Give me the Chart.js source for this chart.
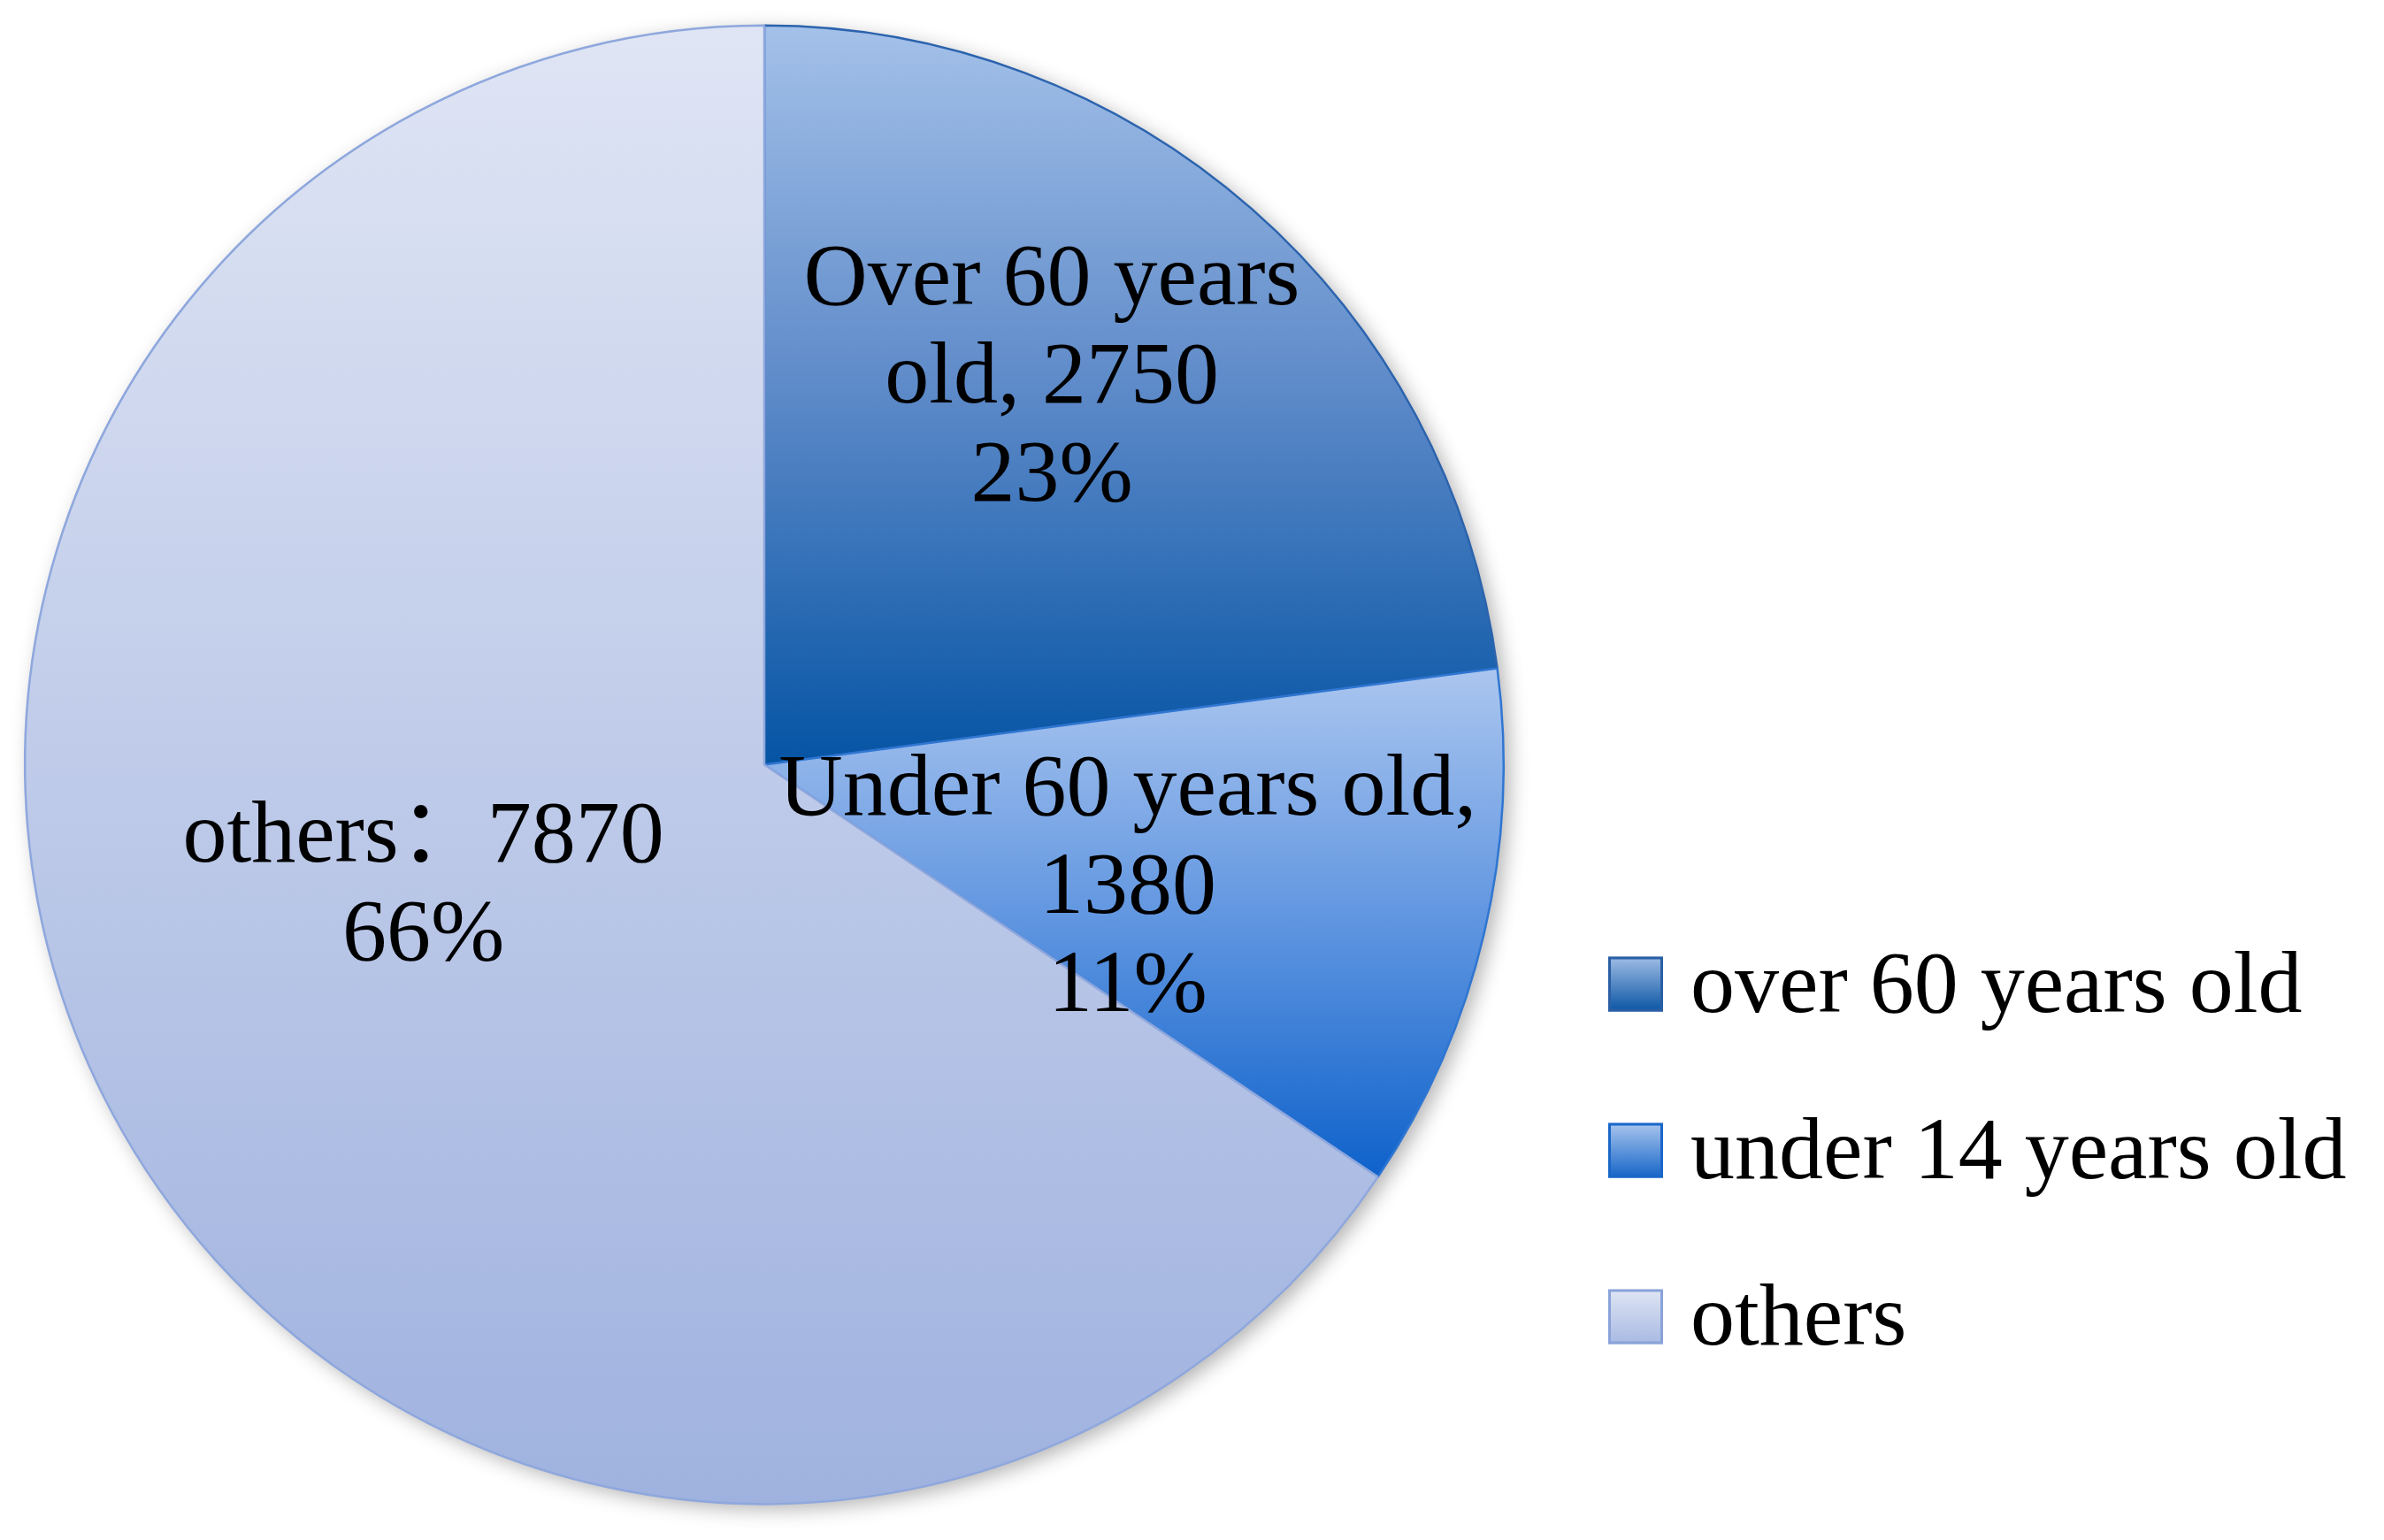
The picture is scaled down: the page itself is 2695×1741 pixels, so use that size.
<!DOCTYPE html>
<html>
<head>
<meta charset="utf-8">
<script src="https://cdn.jsdelivr.net/npm/chart.js@4.4.0/dist/chart.umd.min.js"></script>
<style>
  html, body { margin: 0; padding: 0; background: #fff; }
  #wrap { width: 2695px; height: 1741px; position: relative; }
</style>
</head>
<body>
<div id="wrap"><canvas id="AgePie"></canvas></div>
<script>
// data
const LegendNames = ["over 60 years old", "under 14 years old", "others"];
const SliceNames = ["Over 60 years old", "Under 60 years old", "others"];
const Values = [2750, 1380, 7870];
const Percents = ["23%", "11%", "66%"];

// label text as wrapped in the original
const SliceText = [
  ["Over 60 years", `old, ${Values[0]}`, Percents[0]],
  [`${SliceNames[1]},`, `${Values[1]}`, Percents[1]],
  [`${SliceNames[2]}\uFF1A${Values[2]}`, Percents[2]],
];

// styles
const FONT = "100px 'Liberation Serif', 'Noto Sans CJK SC', serif";
const Stops = [
  ["#a4c1e9", "#5c89c8", "#0554a4"],
  ["#abc6ef", "#5f95e0", "#0e62cb"],
  ["#dfe5f4", "#bfcbe9", "#9fb2df"],
];
const Borders = ["#2b63ad", "#2f76d2", "#8ea7dd"];
const LegendStops = [["#a0bde5", "#0a55a4"], ["#a9c5ee", "#1665c8"], ["#dfe5f4", "#a8b9e2"]];
const LegendBorders = ["#2a5fa5", "#1a67c9", "#8aa3da"];
// label placement: angle nudge (deg) and radius fraction
const LabelNudge = [-4.5, 5.8, 8.3];
const LabelRadius = [0.65, 0.52, 0.49];

// vertical extent of slice i, used for the per-slice gradient
function sliceYRange(chart, i) {
  const a = chart.chartArea;
  const cy = (a.top + a.bottom) / 2;
  const r = Math.min(a.right - a.left, a.bottom - a.top) / 2;
  const data = chart.data.datasets[0].data;
  const total = data.reduce((s, v) => s + v, 0);
  let start = -Math.PI / 2;
  for (let k = 0; k < i; k++) start += (data[k] / total) * Math.PI * 2;
  const end = start + (data[i] / total) * Math.PI * 2;
  let lo = cy, hi = cy;
  for (let t = start; t <= end; t += 0.005) {
    const y = cy + r * Math.sin(t);
    lo = Math.min(lo, y); hi = Math.max(hi, y);
  }
  const ye = cy + r * Math.sin(end);
  return [Math.min(lo, ye), Math.max(hi, ye)];
}

function sliceFill(c) {
  const chart = c.chart;
  const i = c.dataIndex;
  if (!chart.chartArea || i === undefined) return Stops[i || 0][1];
  const [y0, y1] = sliceYRange(chart, i);
  const g = chart.ctx.createLinearGradient(0, y0, 0, y1);
  g.addColorStop(0, Stops[i][0]);
  g.addColorStop(0.5, Stops[i][1]);
  g.addColorStop(1, Stops[i][2]);
  return g;
}

// soft shadow under the whole pie
const pieShadow = {
  id: "pieShadow",
  beforeDatasetsDraw(chart) {
    const arc = chart.getDatasetMeta(0).data[0];
    if (!arc) return;
    const { x, y, outerRadius } = arc.getProps(["x", "y", "outerRadius"], true);
    const ctx = chart.ctx;
    ctx.save();
    ctx.shadowColor = "rgba(0,0,0,0.30)";
    ctx.shadowBlur = 22;
    ctx.shadowOffsetX = 7;
    ctx.shadowOffsetY = 6;
    ctx.fillStyle = "#c8d2ec";
    ctx.beginPath();
    ctx.arc(x, y, outerRadius, 0, Math.PI * 2);
    ctx.fill();
    ctx.restore();
  },
};

// data labels inside the slices
const sliceLabels = {
  id: "sliceLabels",
  afterDatasetsDraw(chart) {
    const ctx = chart.ctx;
    const lineH = 111;
    chart.getDatasetMeta(0).data.forEach((arc, i) => {
      const p = arc.getProps(["x", "y", "startAngle", "endAngle", "outerRadius"], true);
      const mid = (p.startAngle + p.endAngle) / 2 + (LabelNudge[i] * Math.PI) / 180;
      const rr = p.outerRadius * LabelRadius[i];
      const lx = p.x + rr * Math.cos(mid), ly = p.y + rr * Math.sin(mid);
      const lines = SliceText[i];
      ctx.save();
      ctx.font = FONT;
      ctx.fillStyle = "#000";
      ctx.textAlign = "center";
      ctx.textBaseline = "middle";
      lines.forEach((t, k) => ctx.fillText(t, lx, ly + (k - (lines.length - 1) / 2) * lineH));
      ctx.restore();
    });
  },
};

// legend on the right with small gradient boxes
const sideLegend = {
  id: "sideLegend",
  afterDraw(chart) {
    const ctx = chart.ctx;
    const a = chart.chartArea;
    const cy = (a.top + a.bottom) / 2;
    const box = 62, gap = 188;
    const bx = a.right + 117;
    LegendNames.forEach((name, i) => {
      const rowY = cy + 248 + i * gap;
      const top = rowY - box / 2;
      const g = ctx.createLinearGradient(0, top, 0, top + box);
      g.addColorStop(0, LegendStops[i][0]);
      g.addColorStop(1, LegendStops[i][1]);
      ctx.save();
      ctx.fillStyle = g;
      ctx.fillRect(bx, top, box, box);
      ctx.strokeStyle = LegendBorders[i];
      ctx.lineWidth = 3;
      ctx.strokeRect(bx + 1.5, top + 1.5, box - 3, box - 3);
      ctx.font = FONT;
      ctx.fillStyle = "#000";
      ctx.textAlign = "left";
      ctx.textBaseline = "alphabetic";
      ctx.fillText(name, bx + box + 31, top + box);
      ctx.restore();
    });
  },
};

new Chart(document.getElementById("AgePie"), {
  type: "pie",
  data: {
    labels: SliceNames,
    datasets: [
      {
        data: Values,
        backgroundColor: sliceFill,
        borderColor: Borders,
        borderWidth: 2.5,
      },
    ],
  },
  options: {
    responsive: true,
    maintainAspectRatio: false,
    animation: false,
    layout: { padding: { left: 27, top: 27, bottom: 39, right: 994 } },
    plugins: {
      legend: { display: false },
      tooltip: { enabled: false },
    },
  },
  plugins: [pieShadow, sliceLabels, sideLegend],
});
</script>
</body>
</html>
